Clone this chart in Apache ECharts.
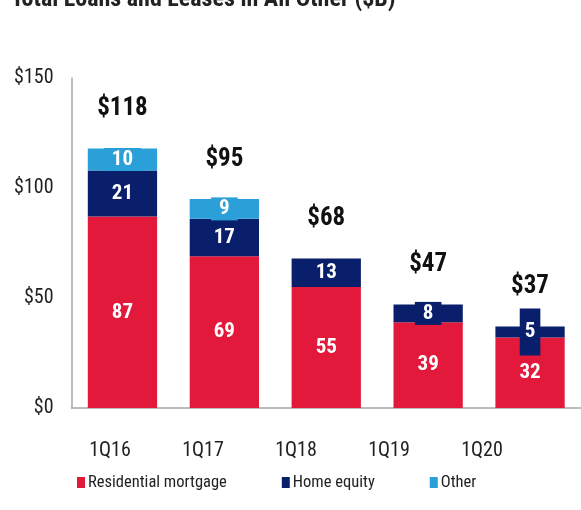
<!DOCTYPE html>
<html>
<head>
<meta charset="utf-8">
<script src="https://cdn.jsdelivr.net/npm/echarts@6/dist/echarts.min.js"></script>
<style>html,body{margin:0;padding:0;background:#fff}#c{width:581px;height:510px}</style>
</head>
<body>
<div id="c"></div>
<script>
var categories = ['1Q16', '1Q17', '1Q18', '1Q19', '1Q20'];
var residential = [87, 69, 55, 39, 32];
var homeEquity = [21, 17, 13, 8, 5];
var other = [10, 9, null, null, null];
var totals = [118, 95, 68, 47, 37];
var yTicks = [0, 50, 100, 150];

var FONT = '"Roboto Condensed", "Liberation Sans", sans-serif';
var RED = '#E3193B', NAVY = '#0A1F6B', BLUE = '#2A9FD8';

function segLabel(bg) {
  return {
    show: true, position: 'inside', color: '#fff', fontFamily: FONT,
    fontWeight: 'bold', fontSize: 21, backgroundColor: bg, padding: [1, 8]
  };
}

var chart = echarts.init(document.getElementById('c'), null, {renderer: 'canvas'});
chart.setOption({
  animation: false,
  title: {
    text: 'Total Loans and Leases in All Other ($B)',
    left: 6, top: -17,
    textStyle: {fontFamily: FONT, fontSize: 24, fontWeight: 'bold', color: '#222'}
  },
  legend: {
    data: ['Residential mortgage', 'Home equity', 'Other'],
    left: 72, top: 469, itemWidth: 8, itemHeight: 11, itemGap: 55,
    icon: 'rect',
    textStyle: {fontFamily: FONT, fontSize: 16.5, color: '#222', padding: [0, 0, 0, -2]}
  },
  grid: [
    {left: 71.5, right: -5.5, top: 78, bottom: 102},
    {left: 63.5, width: 465, top: 78, bottom: 102}
  ],
  xAxis: [
    {type: 'category', gridIndex: 0, data: categories,
     axisLine: {lineStyle: {color: '#a6a6a6', width: 1.5}}, axisTick: {show: false}, axisLabel: {show: false}},
    {type: 'category', gridIndex: 1, data: categories,
     axisLine: {show: false}, axisTick: {show: false},
     axisLabel: {fontFamily: FONT, fontSize: 20, color: '#222', margin: 33}}
  ],
  yAxis: [
    {type: 'value', gridIndex: 0, min: yTicks[0], max: yTicks[yTicks.length - 1], interval: 50,
     axisLine: {show: true, lineStyle: {color: '#a6a6a6', width: 1.5}}, axisTick: {show: false},
     splitLine: {show: false},
     axisLabel: {formatter: function (v) { return '$' + v; }, fontFamily: FONT, fontSize: 20, color: '#222', margin: 18}},
    {type: 'value', gridIndex: 1, min: 0, max: 150, show: false}
  ],
  series: [
    {name: 'Residential mortgage', type: 'bar', stack: 's', xAxisIndex: 0, yAxisIndex: 0,
     barWidth: '68%', data: residential, itemStyle: {color: RED}, label: segLabel(RED)},
    {name: 'Home equity', type: 'bar', stack: 's', xAxisIndex: 0, yAxisIndex: 0,
     barWidth: '68%', data: homeEquity.map(function (v, i) {
       return i === 4 ? {value: v, label: {padding: [13, 5]}} : v;
     }), itemStyle: {color: NAVY}, label: segLabel(NAVY)},
    {name: 'Other', type: 'bar', stack: 's', xAxisIndex: 0, yAxisIndex: 0,
     barWidth: '68%', data: other, itemStyle: {color: BLUE}, label: segLabel(BLUE)},
    {name: 'Total', type: 'bar', stack: 's', xAxisIndex: 0, yAxisIndex: 0,
     barWidth: '68%', data: totals.map(function () { return 0; }),
     itemStyle: {color: 'transparent'},
     label: {show: true, position: 'top', distance: 27, fontFamily: FONT, fontWeight: 'bold', fontSize: 25, color: '#111',
       formatter: function (p) { return '$' + totals[p.dataIndex]; }}},
    {type: 'bar', xAxisIndex: 1, yAxisIndex: 1, data: [], silent: true}
  ]
});
</script>
</body>
</html>
